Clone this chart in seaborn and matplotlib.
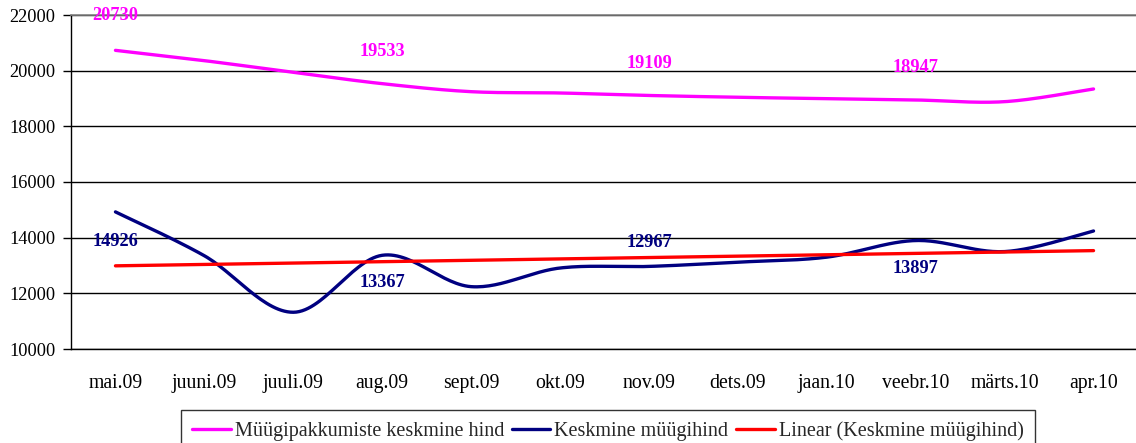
import numpy as np
import pandas as pd
import matplotlib
matplotlib.use("Agg")
import matplotlib.pyplot as plt
from matplotlib.lines import Line2D
from matplotlib.ticker import FixedLocator, NullFormatter
import seaborn as sns

# ---------------- data ----------------
months = ["mai.09", "juuni.09", "juuli.09", "aug.09", "sept.09", "okt.09",
          "nov.09", "dets.09", "jaan.10", "veebr.10", "märts.10", "apr.10"]
offer_price = [20730, 20360, 19940, 19533, 19245, 19198,
               19109, 19044, 18993, 18947, 18886, 19342]
sale_price = [14926, 13350, 11320, 13367, 12240, 12910,
              12967, 13120, 13300, 13897, 13500, 14240]
label_idx = [0, 3, 6, 9]
series_names = ["Müügipakkumiste keskmine hind", "Keskmine müügihind",
                "Linear (Keskmine müügihind)"]
y_ticks = [10000, 12000, 14000, 16000, 18000, 20000, 22000]

# ---------------- style ----------------
sns.set_theme(style="white")
plt.rcParams["font.family"] = ["Liberation Serif", "DejaVu Serif"]
PINK, NAVY, RED = "#FF00FF", "#000080", "#FF0000"


def smooth(xs, ys, n=30):
    """Catmull-Rom style smoothing (like Excel's smoothed line) for drawing."""
    xs = np.asarray(xs, float)
    ys = np.asarray(ys, float)
    px = np.concatenate([[xs[0]], xs, [xs[-1]]])
    py = np.concatenate([[ys[0]], ys, [ys[-1]]])
    ox, oy = [], []
    t = np.linspace(0, 1, n, endpoint=False)
    for i in range(1, len(px) - 2):
        p0, p1, p2, p3 = (np.array([px[j], py[j]]) for j in (i - 1, i, i + 1, i + 2))
        m1 = (p2 - p0) / 2.0
        m2 = (p3 - p1) / 2.0
        h00 = 2 * t**3 - 3 * t**2 + 1
        h10 = t**3 - 2 * t**2 + t
        h01 = -2 * t**3 + 3 * t**2
        h11 = t**3 - t**2
        pts = (h00[:, None] * p1 + h10[:, None] * m1 +
               h01[:, None] * p2 + h11[:, None] * m2)
        ox.extend(pts[:, 0])
        oy.extend(pts[:, 1])
    ox.append(xs[-1])
    oy.append(ys[-1])
    return np.array(ox), np.array(oy)


fig = plt.figure(figsize=(11.36, 4.43), dpi=100)
ax = fig.add_axes([71 / 1136, 1 - 349 / 443, (1138 - 71) / 1136, (349 - 15) / 443])

xi = np.arange(len(months))
sx, sy = smooth(xi, offer_price)
sns.lineplot(x=sx, y=sy, sort=False, ax=ax, color=PINK, linewidth=2.4, zorder=3)
bx, by = smooth(xi, sale_price)
sns.lineplot(x=bx, y=by, sort=False, ax=ax, color=NAVY, linewidth=2.4, zorder=4)

df = pd.DataFrame({"x": xi, "y": sale_price})
sns.regplot(data=df, x="x", y="y", ax=ax, scatter=False, ci=None, truncate=True,
            line_kws=dict(color=RED, linewidth=2.4, zorder=5))

# data labels
pink_off = [35, 32, 32, 32]
navy_off = [-30, -27, 24, -28]
for k, i in enumerate(label_idx):
    ax.annotate(str(offer_price[i]), (i, offer_price[i]), xytext=(0, pink_off[k]),
                textcoords="offset pixels", ha="center", va="center",
                color=PINK, fontsize=13.2, fontweight="bold", zorder=6)
    ax.annotate(str(sale_price[i]), (i, sale_price[i]), xytext=(0, navy_off[k]),
                textcoords="offset pixels", ha="center", va="center",
                color=NAVY, fontsize=13.2, fontweight="bold", zorder=6)

# axes
ax.set_xlim(-0.5, len(months) - 0.5)
ax.set_ylim(10000, 22000)
ax.set_yticks(y_ticks)
ax.set_yticklabels([str(v) for v in y_ticks], fontsize=13.2, color="black")
ax.set_xticks(xi)
ax.set_xticklabels(months, fontsize=14.2, color="black")
ax.xaxis.set_minor_locator(FixedLocator(np.arange(-0.5, len(months), 1.0)))
ax.xaxis.set_minor_formatter(NullFormatter())
ax.tick_params(axis="x", which="major", length=0, pad=18)
ax.tick_params(axis="x", which="minor", length=5, width=1, color="black", direction="out")
ax.tick_params(axis="y", which="major", length=6, width=1, color="black",
               direction="out", pad=5, left=True)
ax.set_xlabel("")
ax.set_ylabel("")
ax.yaxis.grid(True, color="black", linewidth=1)
ax.set_axisbelow(True)
for side in ("left", "bottom"):
    ax.spines[side].set_color("black")
    ax.spines[side].set_linewidth(1)
ax.spines["top"].set_color("#808080")
ax.spines["top"].set_linewidth(1.2)
ax.spines["right"].set_visible(False)

handles = [Line2D([], [], color=c, linewidth=2.4) for c in (PINK, NAVY, RED)]
leg = fig.legend(handles, series_names, loc="upper center",
                 bbox_to_anchor=(608 / 1136, 1 - 410 / 443), ncol=3,
                 fontsize=14.5, frameon=True, fancybox=False, handlelength=1.9,
                 handletextpad=0.2, columnspacing=0.4, borderpad=0.55,
                 borderaxespad=0)
leg.get_frame().set_edgecolor("black")
leg.get_frame().set_linewidth(1)

fig.savefig("out.png", dpi=100)
